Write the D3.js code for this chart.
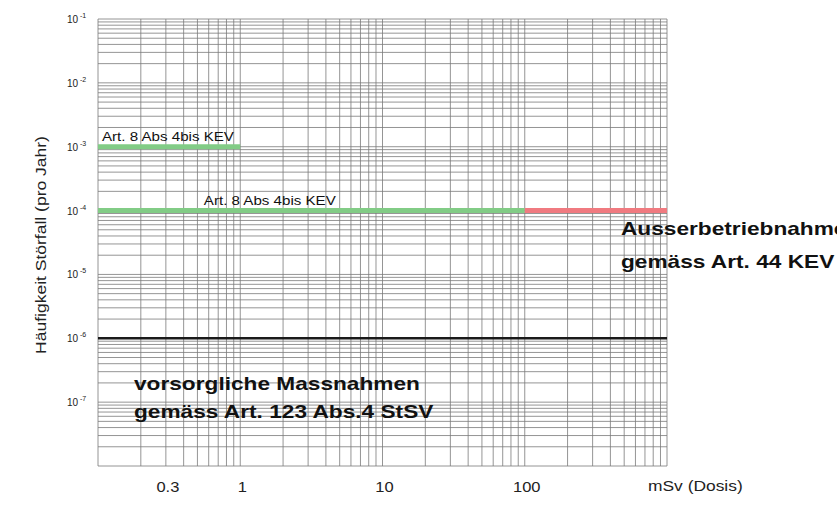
<!DOCTYPE html>
<html><head><meta charset="utf-8">
<script src="https://cdn.jsdelivr.net/npm/d3@7"></script>
<style>body{margin:0;background:#fff}svg{display:block}</style>
</head><body>
<svg id="c" width="837" height="527"></svg>
<script>
const xDomain = [0.1, 1000];
const yDomain = [1e-8, 1e-1];
const xTickLabels = [0.3, 1, 10, 100];
const yTickExps = [-1, -2, -3, -4, -5, -6, -7];
// limit segments: [x0, x1, frequency, kind]
const segX0 = [0.1, 0.1, 100, 0.1];
const segX1 = [1, 100, 1000, 1000];
const segY  = [1e-3, 1e-4, 1e-4, 1e-6];
const segKind = ["green", "green", "red", "black"];
const lineLabels = ["Art. 8 Abs 4bis KEV", "Art. 8 Abs 4bis KEV"];
const lineLabelX = [0.1, 0.52];
const lineLabelY = [1e-3, 1e-4];

const FONT = "Liberation Sans, Arial, Helvetica, sans-serif";
const svg = d3.select("#c");
const L = 98, R = 667, T = 19, B = 466;
const x = d3.scaleLog().domain(xDomain).range([L, R]);
const y = d3.scaleLog().domain(yDomain).range([B, T]);

// stretch text along its direction (reference glyphs are wider)
function stretch(sel, k) {
  sel.each(function () {
    const w = this.getComputedTextLength();
    d3.select(this).attr("textLength", w * k).attr("lengthAdjust", "spacingAndGlyphs");
  });
  return sel;
}

// grid
const gx = [], gy = [];
for (let e = -1; e < 3; e++) for (let m = 1; m <= 9; m++) gx.push(m * Math.pow(10, e));
gx.push(1000);
for (let e = -8; e < -1; e++) for (let m = 1; m <= 9; m++) gy.push(m * Math.pow(10, e));
gy.push(0.1);
const g = svg.append("g");
g.selectAll("line.vx").data(gx).join("line")
  .attr("x1", d => x(d)).attr("x2", d => x(d)).attr("y1", T).attr("y2", B)
  .attr("stroke", "#7a7a7a").attr("stroke-width", 0.8);
g.selectAll("line.hy").data(gy).join("line")
  .attr("y1", d => y(d)).attr("y2", d => y(d)).attr("x1", L).attr("x2", R)
  .attr("stroke", "#7a7a7a").attr("stroke-width", 0.8);

// segments
const colors = {green: "#82cc86", red: "#f07a80", black: "#1a1a1a"};
const widths = {green: 5, red: 5, black: 2.5};
svg.selectAll("line.seg").data(segY).join("line")
  .attr("x1", (d, i) => x(segX0[i])).attr("x2", (d, i) => x(segX1[i]))
  .attr("y1", d => y(d)).attr("y2", d => y(d))
  .attr("stroke", (d, i) => colors[segKind[i]])
  .attr("stroke-width", (d, i) => widths[segKind[i]]);

// line labels
stretch(svg.selectAll("text.ll").data(lineLabels).join("text")
  .attr("x", (d, i) => x(lineLabelX[i]) + 4).attr("y", (d, i) => y(lineLabelY[i]) - 6)
  .attr("font-family", FONT).attr("font-size", 13.5)
  .attr("fill", "#111").text(d => d), 1.12);

// y tick labels
svg.selectAll("text.yt").data(yTickExps).join("text")
  .attr("x", 78).attr("y", d => y(Math.pow(10, d)) + 4)
  .attr("text-anchor", "end")
  .attr("font-family", FONT).attr("font-size", 10).attr("fill", "#222")
  .text("10");
svg.selectAll("text.ys").data(yTickExps).join("text")
  .attr("x", 80).attr("y", d => y(Math.pow(10, d)) - 1)
  .attr("font-family", FONT).attr("font-size", 7).attr("fill", "#222")
  .text(d => "-" + Math.abs(d));

// x tick labels
stretch(svg.selectAll("text.xt").data(xTickLabels).join("text")
  .attr("x", d => x(d) + 2).attr("y", 492).attr("text-anchor", "middle")
  .attr("font-family", FONT).attr("font-size", 15).attr("fill", "#222")
  .text(d => d), 1.1);
stretch(svg.append("text").attr("x", 648).attr("y", 491)
  .attr("font-family", FONT).attr("font-size", 14.5).attr("fill", "#222")
  .text("mSv (Dosis)"), 1.2);

// y axis title
stretch(svg.append("text").attr("transform", "translate(46,245) rotate(-90)")
  .attr("text-anchor", "middle")
  .attr("font-family", FONT).attr("font-size", 14).attr("fill", "#222")
  .text("Häufigkeit Störfall (pro Jahr)"), 1.25);

// region annotations
const bold = (tx, ty, s) => stretch(svg.append("text").attr("x", tx).attr("y", ty)
  .attr("font-family", FONT).attr("font-size", 18.5)
  .attr("font-weight", "bold").attr("fill", "#111").text(s), 1.225);
bold(621, 235, "Ausserbetriebnahme");
bold(621, 268, "gemäss Art. 44 KEV");
bold(134, 390, "vorsorgliche Massnahmen");
bold(134, 418, "gemäss Art. 123 Abs.4 StSV");
</script>
</body></html>
